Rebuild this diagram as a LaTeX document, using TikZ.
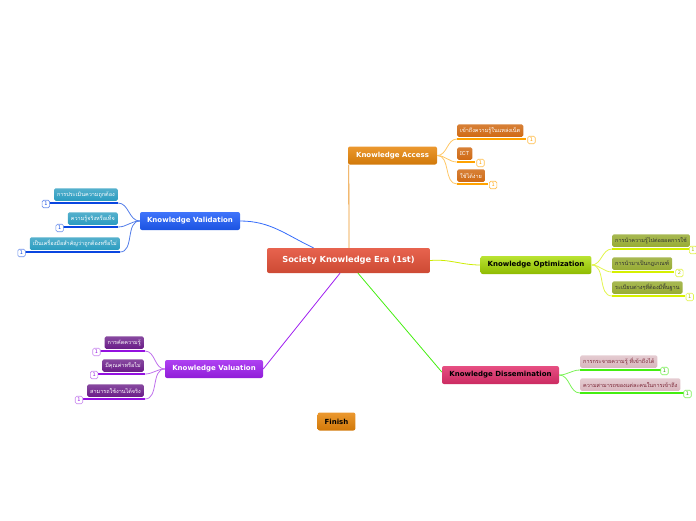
\documentclass[tikz,border=0pt]{standalone}
\usepackage{fontspec}
\setsansfont{DejaVu Sans}
\newfontfamily\thaifont[Script=Thai]{Loma}
\usetikzlibrary{positioning}

% branch colours
\definecolor{accfill}{HTML}{E8860A}
\definecolor{accleaf}{HTML}{D06A14}
\definecolor{accline}{HTML}{FFA200}
\definecolor{optfill}{HTML}{A8DC00}
\definecolor{optleaf}{HTML}{98AC34}
\definecolor{optline}{HTML}{D6F000}
\definecolor{disfill}{HTML}{E2306C}
\definecolor{disleaf}{HTML}{D9B6BE}
\definecolor{distext}{HTML}{7A2434}
\definecolor{disline}{HTML}{44EE10}
\definecolor{vldfill}{HTML}{1E5CFA}
\definecolor{vldleaf}{HTML}{2A9CC0}
\definecolor{vldline}{HTML}{0A46E0}
\definecolor{valfill}{HTML}{A020F0}
\definecolor{valleaf}{HTML}{6A1C88}
\definecolor{valline}{HTML}{9410E0}
\definecolor{rootfill}{HTML}{E4523A}

\begin{document}
\begin{tikzpicture}[x=1pt, y=-1pt, font=\sffamily,
    topic/.style={rounded corners=2pt, font=\sffamily\bfseries\fontsize{7}{8}\selectfont,
      minimum height=18pt, inner xsep=7pt},
    leaf/.style={rounded corners=1.5pt, font=\thaifont\fontsize{5.5}{6}\selectfont,
      minimum height=12.5pt, inner xsep=3pt, inner ysep=1pt},
    badge/.style={draw, fill=white, rounded corners=1.5pt, line width=0.6pt,
      font=\sffamily\fontsize{5}{5}\selectfont, minimum size=7.5pt, inner sep=0.4pt},
    uline/.style={line width=2.6pt},
    link/.style={line width=0.8pt}]
  \useasboundingbox (0,0) rectangle (696,520);

  % where the root links leave the root box
  \coordinate (accfoot) at (349,262);
  \coordinate (vldfoot) at (313.5,250);
  \coordinate (disfoot) at (358,270);
  \coordinate (valfoot) at (340,270);

  % root and the six main topics
  \node[rounded corners=2pt, top color=rootfill!90!white, bottom color=rootfill!90!black, text=white,
    font=\sffamily\bfseries\fontsize{8.3}{10}\selectfont, minimum width=163pt, minimum height=25pt]
    (root) at (348.5,260.5) {Society Knowledge Era (1st)};
  \node[topic, top color=accfill!85!white, bottom color=accfill!90!black, text=white, minimum width=89pt]
    (access) at (392.5,155.5) {Knowledge Access};
  \node[topic, top color=optfill!80!white, bottom color=optfill!85!black, text=black, minimum width=110pt]
    (optim) at (536,265) {Knowledge Optimization};
  \node[topic, top color=disfill!85!white, bottom color=disfill!90!black, text=black, minimum width=117pt]
    (dissem) at (500.5,375) {Knowledge Dissemination};
  \node[topic, top color=valfill!85!white, bottom color=valfill!90!black, text=white, minimum width=98pt]
    (valu) at (214,369) {Knowledge Valuation};
  \node[topic, top color=vldfill!85!white, bottom color=vldfill!90!black, text=white, minimum width=100pt]
    (valid) at (190,221) {Knowledge Validation};
  \node[topic, top color=accfill!85!white, bottom color=accfill!90!black, text=black, minimum width=37pt]
    (finish) at (336.5,421.5) {Finish};

  % root links
  \draw[link, accfill!90!white] (root.north -| accfoot) -- ([xshift=1pt]access.south west);
  \draw[link, vldfill!90!white] (root.north -| vldfoot) to[out=155, in=0] (valid.east);
  \draw[link, optline!80!optfill] (root.east) to[out=5, in=180] (optim.west);
  \draw[link, disline] (root.south -| disfoot) -- ([yshift=3pt]dissem.west);
  \draw[link, valfill] (root.south -| valfoot) -- (valu.east);

  % Knowledge Access leaves
  \node[leaf, anchor=south west, top color=accleaf!85!white, bottom color=accleaf, text=white]
    (acc1) at (457,137) {เข้าถึงความรู้ในแหล่งเน็ต};
  \node[leaf, anchor=south west, top color=accleaf!85!white, bottom color=accleaf, text=white]
    (acc2) at (457,160) {ICT};
  \node[leaf, anchor=south west, top color=accleaf!85!white, bottom color=accleaf, text=white]
    (acc3) at (457,182) {ใช้ได้ง่าย};
  \foreach \n in {acc1,acc2,acc3} {
    \draw[uline, accline] ([yshift=-2pt]\n.south west) -- ([xshift=3pt, yshift=-2pt]\n.south east);
    \node[badge, draw=accline!70!white, text=accline] (\n b) at ([xshift=8pt, yshift=-3pt]\n.south east) {1};
    \draw[link, accline!60!white] (access.east) to[out=0, in=180] ([yshift=-2pt]\n.south west);
  }

  % Knowledge Optimization leaves
  \node[leaf, anchor=south west, top color=optleaf!85!white, bottom color=optleaf, text=black!80]
    (opt1) at (612,247) {การนำความรู้ไปต่อยอดการใช้};
  \node[leaf, anchor=south west, top color=optleaf!85!white, bottom color=optleaf, text=black!80]
    (opt2) at (612,270) {การนำมาเป็นกฎเกณฑ์};
  \node[leaf, anchor=south west, top color=optleaf!85!white, bottom color=optleaf, text=black!80]
    (opt3) at (612,294) {ระเบียบต่างๆที่ต้องมีพื้นฐาน};
  \foreach \n/\c/\d in {opt1/1/3pt,opt2/2/7pt,opt3/1/7pt} {
    \draw[uline, optline] ([yshift=-2pt]\n.south west) -- ([xshift=2pt, yshift=-2pt]\n.south east);
    \node[badge, draw=optline!70!white, text=optline!80!black] (\n b) at ([xshift=\d, yshift=-3pt]\n.south east) {\c};
    \draw[link, optline!70!white] (optim.east) to[out=0, in=180] ([yshift=-2pt]\n.south west);
  }

  % Knowledge Dissemination leaves
  \node[leaf, anchor=south west, top color=disleaf!70!white, bottom color=disleaf, text=distext]
    (dis1) at (580,368) {การกระจายความรู้ ที่เข้าถึงได้};
  \node[leaf, anchor=south west, top color=disleaf!70!white, bottom color=disleaf, text=distext]
    (dis2) at (580,391) {ความสามารถของแต่ละคนในการเข้าถึง};
  \foreach \n in {dis1,dis2} {
    \draw[uline, disline] ([yshift=-2pt]\n.south west) -- ([xshift=3pt, yshift=-2pt]\n.south east);
    \node[badge, draw=disline!70!white, text=disline!70!black] (\n b) at ([xshift=7pt, yshift=-3pt]\n.south east) {1};
    \draw[link, disline!70!white] (dissem.east) to[out=0, in=180] ([yshift=-2pt]\n.south west);
  }

  % Knowledge Validation leaves
  \node[leaf, anchor=south east, top color=vldleaf!80!white, bottom color=vldleaf, text=white]
    (vld1) at (118,201) {การประเมินความถูกต้อง};
  \node[leaf, anchor=south east, top color=vldleaf!80!white, bottom color=vldleaf, text=white]
    (vld2) at (118,225) {ความรู้จริงหรือเท็จ};
  \node[leaf, anchor=south east, top color=vldleaf!80!white, bottom color=vldleaf, text=white]
    (vld3) at (120,250) {เป็นเครื่องมือสำคัญว่าถูกต้องหรือไม่};
  \foreach \n in {vld1,vld2,vld3} {
    \draw[uline, vldline] ([xshift=-5pt, yshift=-2pt]\n.south west) -- ([yshift=-2pt]\n.south east);
    \node[badge, draw=vldline!60!white, text=vldline] (\n b) at ([xshift=-8pt, yshift=-3pt]\n.south west) {1};
    \draw[link, vldline!70!white] (valid.west) to[out=180, in=0] ([yshift=-2pt]\n.south east);
  }

  % Knowledge Valuation leaves
  \node[leaf, anchor=south east, top color=valleaf!80!white, bottom color=valleaf, text=white]
    (val1) at (144,349) {การคัดความรู้};
  \node[leaf, anchor=south east, top color=valleaf!80!white, bottom color=valleaf, text=white]
    (val2) at (144,372) {มีคุณค่าหรือไม่};
  \node[leaf, anchor=south east, top color=valleaf!80!white, bottom color=valleaf, text=white]
    (val3) at (144,397) {สามารถใช้งานได้จริง};
  \foreach \n in {val1,val2,val3} {
    \draw[uline, valline] ([xshift=-5pt, yshift=-2pt]\n.south west) -- ([xshift=1pt, yshift=-2pt]\n.south east);
    \node[badge, draw=valline!50!white, text=valline] (\n b) at ([xshift=-8pt, yshift=-3pt]\n.south west) {1};
    \draw[link, valline!60!white] (valu.west) to[out=180, in=0] ([xshift=1pt, yshift=-2pt]\n.south east);
  }
\end{tikzpicture}
\end{document}
